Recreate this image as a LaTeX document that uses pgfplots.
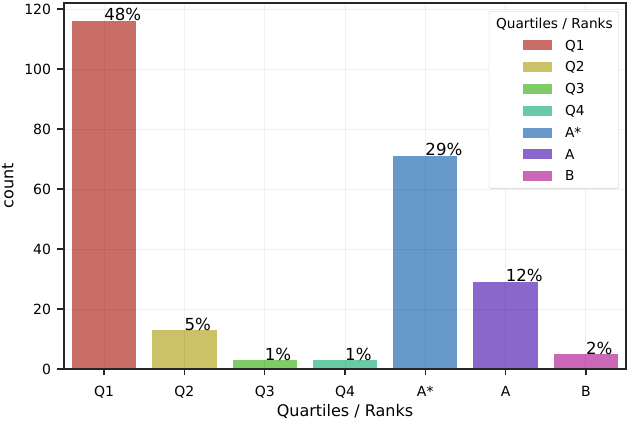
\documentclass[border=0pt]{standalone}
\usepackage{pgfplots}
\pgfplotsset{compat=1.18}
\usepackage{fontspec}
\setmainfont{DejaVu Sans}
\newcommand\tf{\fontsize{14bp}{16bp}\selectfont}
\newcommand\lf{\fontsize{16bp}{19bp}\selectfont}
\newcommand\gf{\fontsize{13.7bp}{16bp}\selectfont}
\newcommand\pf{\fontsize{16.6bp}{19bp}\selectfont}
\definecolor{cQ1}{RGB}{203,109,103}
\definecolor{cQ2}{RGB}{203,194,103}
\definecolor{cQ3}{RGB}{126,203,103}
\definecolor{cQ4}{RGB}{103,203,166}
\definecolor{cAs}{RGB}{103,154,203}
\definecolor{cA}{RGB}{138,103,203}
\definecolor{cB}{RGB}{203,103,183}
\pgfplotsset{mylegend/.style={legend image code/.code={%
  \path[draw=none, fill=none] (-28bp,-5bp) rectangle (0bp,5bp);
  \fill[##1, sharp corners, draw=none] (0bp,-5bp) rectangle (29bp,5bp);}}}
\begin{document}
\begin{tikzpicture}
\path[use as bounding box] (-64bp,-52bp) rectangle (565bp,369bp);
\begin{axis}[
  at={(0,0)}, anchor=south west,
  scale only axis, width=562bp, height=366bp,
  xmin=-0.5, xmax=6.5, ymin=0, ymax=122,
  xtick={0,1,2,3,4,5,6},
  xticklabels={Q1,Q2,Q3,Q4,A*,A,B},
  ytick={0,20,40,60,80,100,120},
  xtick pos=bottom, ytick pos=left,
  tick align=outside, major tick length=6.5bp,
  tick style={black!85, line width=1.5bp},
  axis line style={black!85, line width=1.5bp},
  axis on top,
  grid=major, grid style={black, opacity=0.06, line width=0.8bp},
  ticklabel style={font=\tf},
  xticklabel style={yshift=-7bp},
  yticklabel style={xshift=-3bp},
  /pgf/number format/assume math mode=true,
  xlabel={Quartiles / Ranks}, ylabel={count},
  xlabel style={font=\lf, at={(axis description cs:0.5,-0.130)}, anchor=base},
  ylabel style={font=\lf, at={(axis description cs:-0.1,0.5)}, anchor=center},
  ybar, bar width=0.8, bar shift=0pt,
  point meta=explicit symbolic,
  nodes near coords,
  nodes near coords style={anchor=base west, inner sep=0pt, font=\pf, black},
  legend cell align=left,
  legend style={at={(axis description cs:0.9875,0.978)}, anchor=north east,
    draw=black!20, rounded corners=2.5bp, fill=white,
    inner xsep=6bp, inner ysep=1.5bp, column sep=13bp, row sep=0pt,
    font=\gf,
    nodes={inner xsep=0bp, inner ysep=4bp, text height=11.5bp, text depth=2.3bp}},
]
\addlegendimage{empty legend}
\addlegendentry{\hspace{-69bp}Quartiles / Ranks}
\addplot[fill=cQ1, draw=none, mylegend] coordinates {(0,116) [48\%]};
\addlegendentry{Q1}
\addplot[fill=cQ2, draw=none, mylegend] coordinates {(1,13) [5\%]};
\addlegendentry{Q2}
\addplot[fill=cQ3, draw=none, mylegend] coordinates {(2,3) [1\%]};
\addlegendentry{Q3}
\addplot[fill=cQ4, draw=none, mylegend] coordinates {(3,3) [1\%]};
\addlegendentry{Q4}
\addplot[fill=cAs, draw=none, mylegend] coordinates {(4,71) [29\%]};
\addlegendentry{A*}
\addplot[fill=cA, draw=none, mylegend] coordinates {(5,29) [12\%]};
\addlegendentry{A}
\addplot[fill=cB, draw=none, mylegend] coordinates {(6,5) [2\%]};
\addlegendentry{B}
\end{axis}
\end{tikzpicture}
\end{document}
